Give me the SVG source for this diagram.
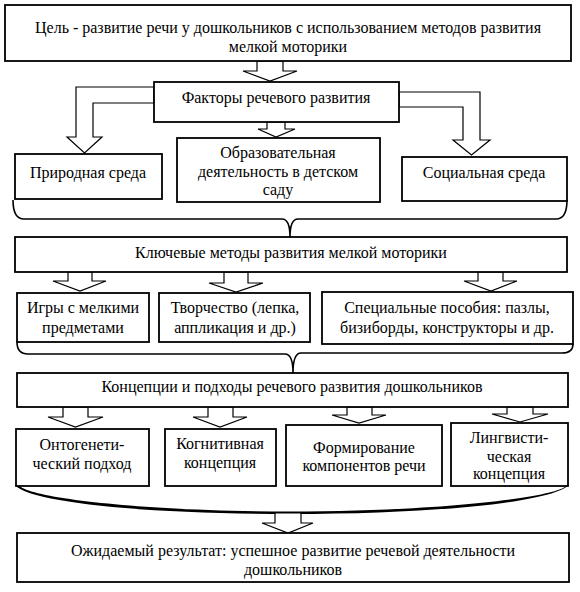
<svg xmlns="http://www.w3.org/2000/svg" width="580" height="592" viewBox="0 0 580 592">
<style>
.box{fill:#fff;stroke:#000;stroke-width:1.8}
.arr{fill:#fff;stroke:#000;stroke-width:1.2;stroke-linejoin:miter}
.br{fill:none;stroke:#000;stroke-width:1.6}
.t{font-family:'Liberation Serif','Times New Roman',serif;font-size:16px;fill:#000;text-anchor:middle}
</style>
<rect width="580" height="592" fill="#fff"/>
<g id="connectors">
<polygon class="arr" points="257,61 257,71 243,71 270,81 297,71 283,71 283,61"/>
<polygon class="arr" points="154,87 76,87 76,137 67,137 84.5,153 102,137 93,137 93,103 154,103"/>
<polygon class="arr" points="399,92 480,92 480,140 490,140 471.5,155 453,140 463,140 463,107 399,107"/>
<polygon class="arr" points="267,122 267,129 258,129 276,137 295,129 285,129 285,122"/>
<path class="br" d="M13,200 Q13,219 24,219 L282,219 Q290,219 290,237 Q290,219 298,219 L556,219 Q567,219 567,200"/>
<polygon class="arr" points="68,272 68,281 53,281 80,291 106,281 92,281 92,272"/>
<polygon class="arr" points="224,272 224,283 209,283 236,292 263,283 248,283 248,272"/>
<polygon class="arr" points="478,272 478,281 464,281 491,291 517,281 503,281 503,272"/>
<path class="br" d="M17,342 Q17,354 28,354 L285,354 Q293,354 293,373 Q293,353 301,353 L562,353 Q573,353 573,344"/>
<polygon class="arr" points="63,407 63,417 48,417 75.5,427 103,417 88,417 88,407"/>
<polygon class="arr" points="208,407 208,417 193,417 220,427 247,417 233,417 233,407"/>
<polygon class="arr" points="347,407 347,415 332,415 359,423 386,415 372,415 372,407"/>
<polygon class="arr" points="507,407 507,414 492,414 520,422 548,414 533,414 533,407"/>
<path d="M15,485 C30,503 150,514 290,514 C430,514 550,503 569,485 L565,487 C545,499 430,511.5 290,511.5 C150,511.5 38,499 21,487 Z" fill="#000"/>
<polygon class="arr" points="275,513 275,523 262,523 288,533 313,523 301,523 301,513"/>
</g>
<g id="goal">
<rect class="box" x="5" y="5" width="566" height="56"/>
<text class="t" x="288" y="33">Цель - развитие речи у дошкольников с использованием методов развития</text>
<text class="t" x="288" y="52">мелкой моторики</text>
</g>
<g id="factors">
<rect class="box" x="154" y="82" width="245" height="40"/>
<text class="t" x="276" y="103">Факторы речевого развития</text>
</g>
<g id="nature">
<rect class="box" x="15" y="154" width="147" height="45"/>
<text class="t" x="88" y="178">Природная среда</text>
</g>
<g id="education">
<rect class="box" x="177" y="138" width="203" height="64"/>
<text class="t" x="278" y="158">Образовательная</text>
<text class="t" x="278" y="177">деятельность в детском</text>
<text class="t" x="278" y="195">саду</text>
</g>
<g id="social">
<rect class="box" x="402" y="157" width="165" height="44"/>
<text class="t" x="484" y="178">Социальная среда</text>
</g>
<g id="methods">
<rect class="box" x="15" y="237" width="552" height="35"/>
<text class="t" x="291" y="258">Ключевые методы развития мелкой моторики</text>
</g>
<g id="games">
<rect class="box" x="17" y="293" width="132" height="49"/>
<text class="t" x="83" y="313">Игры с мелкими</text>
<text class="t" x="83" y="333">предметами</text>
</g>
<g id="creative">
<rect class="box" x="159" y="293" width="151" height="49"/>
<text class="t" x="235" y="313">Творчество (лепка,</text>
<text class="t" x="235" y="333">аппликация и др.)</text>
</g>
<g id="special">
<rect class="box" x="322" y="292" width="251" height="52"/>
<text class="t" x="447" y="313">Специальные пособия: пазлы,</text>
<text class="t" x="447" y="333">бизиборды, конструкторы и др.</text>
</g>
<g id="concepts">
<rect class="box" x="17" y="373" width="551" height="34"/>
<text class="t" x="292" y="392">Концепции и подходы речевого развития дошкольников</text>
</g>
<g id="onto">
<rect class="box" x="16" y="429" width="133" height="57"/>
<text class="t" x="82" y="450">Онтогенети-</text>
<text class="t" x="82" y="469">ческий подход</text>
</g>
<g id="cognitive">
<rect class="box" x="165" y="429" width="111" height="57"/>
<text class="t" x="220" y="449">Когнитивная</text>
<text class="t" x="220" y="468">концепция</text>
</g>
<g id="components">
<rect class="box" x="286" y="425" width="156" height="61"/>
<text class="t" x="364" y="453">Формирование</text>
<text class="t" x="364" y="471">компонентов речи</text>
</g>
<g id="linguistic">
<rect class="box" x="451" y="423" width="117" height="63"/>
<text class="t" x="509" y="443">Лингвисти-</text>
<text class="t" x="509" y="462">ческая</text>
<text class="t" x="509" y="479">концепция</text>
</g>
<g id="result">
<rect class="box" x="17" y="533" width="552" height="49"/>
<text class="t" x="293" y="556">Ожидаемый результат: успешное развитие речевой деятельности</text>
<text class="t" x="293" y="575">дошкольников</text>
</g>
</svg>
